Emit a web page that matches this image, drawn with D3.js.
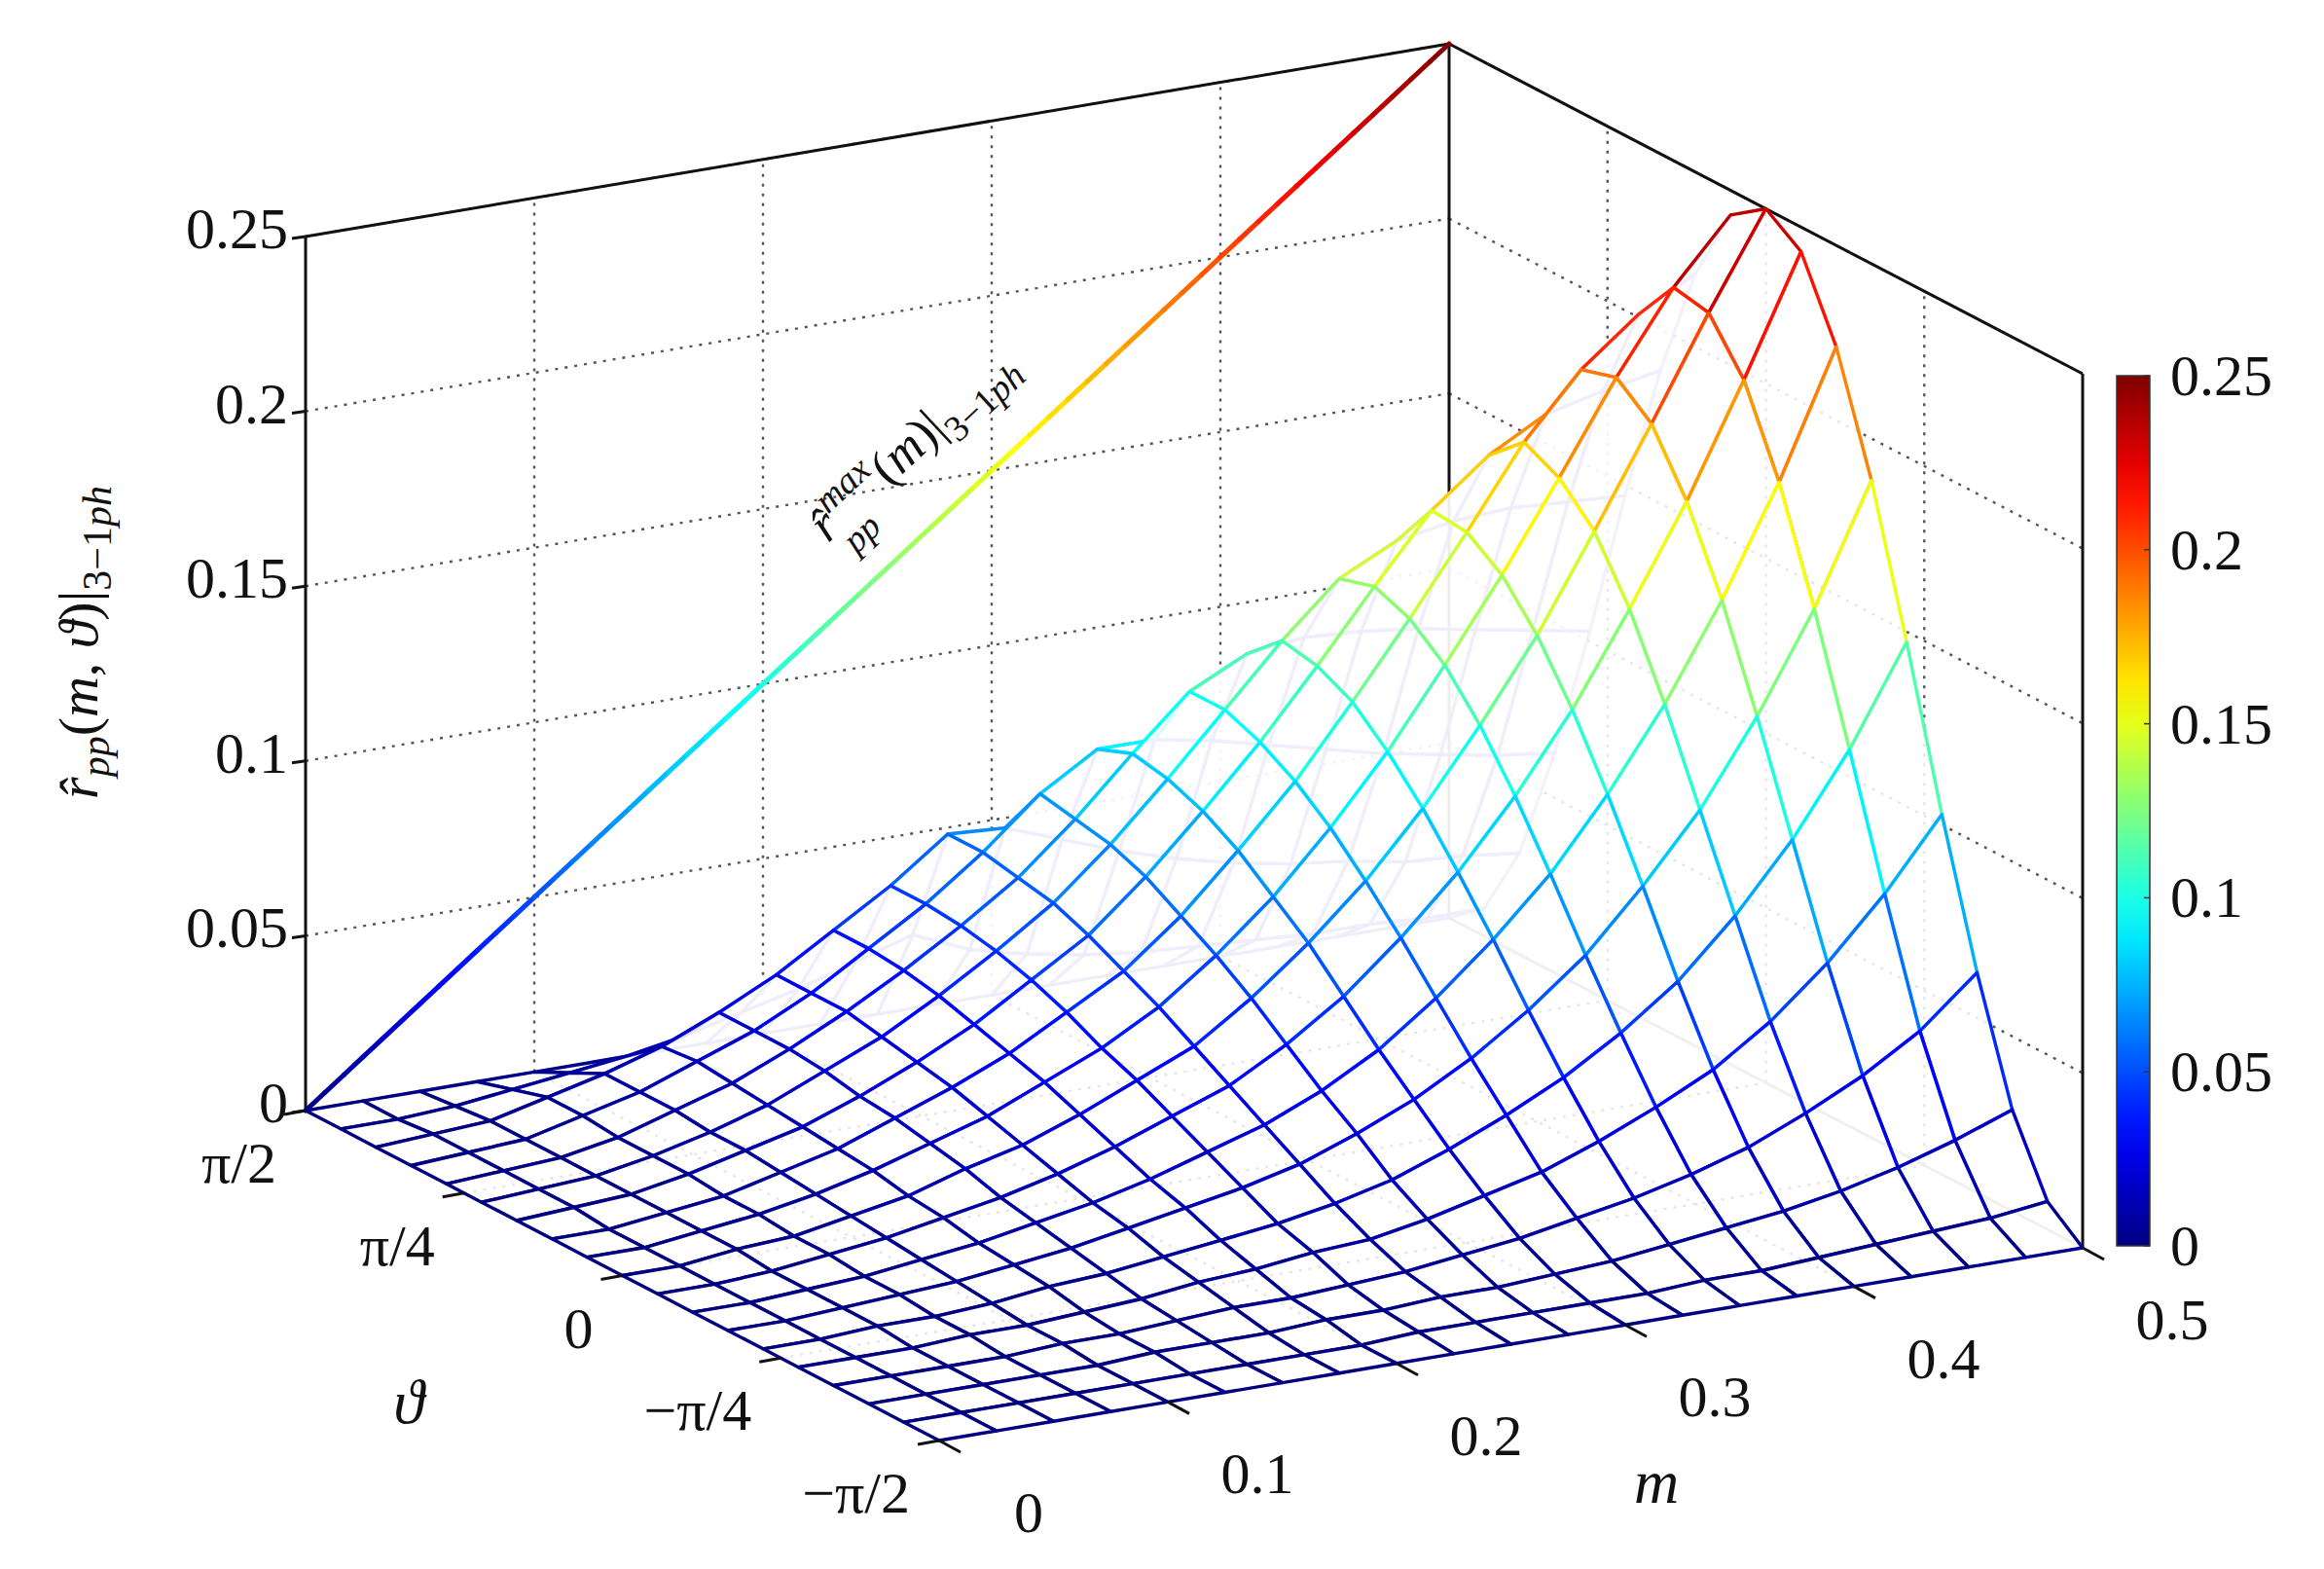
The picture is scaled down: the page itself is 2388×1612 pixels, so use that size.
<!DOCTYPE html>
<html><head><meta charset="utf-8">
<script src="https://cdn.jsdelivr.net/npm/d3@7"></script>
<style>body{margin:0;background:#fff}svg text{font-family:"Liberation Serif","Times New Roman",serif;fill:#111}</style>
</head><body><svg id="c" width="2388" height="1612" font-family="Liberation Serif, serif"></svg>
<script>
// ---------- data ----------
const mValues = [0,0.025,0.05,0.075,0.1,0.125,0.15,0.175,0.2,0.225,0.25,0.275,0.3,0.325,0.35,0.375,0.4,0.425,0.45,0.475,0.5];
const thetaValues = d3.range(19).map(i => -Math.PI/2 + i*Math.PI/18);
const zRows = [
[0,0,0,0,0,0,0,0,0,0,0,0,0,0,0,0,0,0,0],
[0,0,0,0,0,0,0,0,0,0,0,0,0.001,0.001,0.001,0.001,0.001,0,0],
[0,0,0,0,0,0.001,0.001,0.001,0.001,0.002,0.002,0.002,0.002,0.002,0.002,0.002,0.002,0.001,0],
[0,0,0,0,0.001,0.001,0.002,0.002,0.003,0.003,0.004,0.004,0.005,0.005,0.005,0.006,0.006,0.003,0],
[0,0,0,0.001,0.001,0.002,0.003,0.004,0.005,0.006,0.007,0.008,0.009,0.009,0.010,0.010,0.010,0.005,0],
[0,0,0.001,0.001,0.002,0.004,0.005,0.006,0.008,0.009,0.011,0.012,0.013,0.014,0.015,0.016,0.015,0.007,0],
[0,0,0.001,0.002,0.003,0.005,0.007,0.009,0.011,0.014,0.016,0.018,0.019,0.021,0.022,0.022,0.022,0.010,0],
[0,0,0.001,0.003,0.005,0.007,0.010,0.012,0.015,0.018,0.021,0.024,0.026,0.028,0.030,0.030,0.030,0.014,0],
[0,0,0.002,0.003,0.006,0.009,0.013,0.016,0.020,0.024,0.028,0.031,0.034,0.037,0.039,0.040,0.040,0.018,0],
[0,0.001,0.002,0.004,0.008,0.011,0.016,0.021,0.026,0.031,0.035,0.040,0.044,0.047,0.049,0.050,0.050,0.023,0],
[0,0.001,0.003,0.005,0.009,0.014,0.020,0.026,0.032,0.038,0.044,0.049,0.054,0.058,0.060,0.062,0.062,0.028,0],
[0,0.001,0.003,0.007,0.012,0.018,0.026,0.033,0.041,0.049,0.056,0.062,0.068,0.072,0.074,0.076,0.061,0.021,0],
[0,0.001,0.004,0.009,0.016,0.024,0.033,0.042,0.052,0.062,0.070,0.078,0.084,0.088,0.090,0.086,0.055,0.017,0],
[0,0.001,0.005,0.012,0.020,0.031,0.042,0.054,0.066,0.077,0.087,0.095,0.101,0.105,0.105,0.086,0.049,0.014,0],
[0,0.002,0.007,0.015,0.026,0.039,0.053,0.068,0.082,0.095,0.106,0.115,0.120,0.122,0.113,0.083,0.044,0.012,0],
[0,0.002,0.009,0.019,0.033,0.049,0.066,0.084,0.101,0.116,0.128,0.136,0.140,0.137,0.115,0.079,0.040,0.011,0],
[0,0.003,0.011,0.024,0.041,0.061,0.083,0.104,0.123,0.139,0.151,0.158,0.159,0.145,0.114,0.075,0.037,0.010,0],
[0,0.004,0.014,0.031,0.052,0.077,0.102,0.127,0.149,0.166,0.176,0.181,0.172,0.148,0.112,0.071,0.035,0.009,0],
[0,0.005,0.018,0.039,0.066,0.096,0.126,0.154,0.177,0.194,0.202,0.199,0.181,0.149,0.109,0.068,0.032,0.009,0],
[0,0.006,0.023,0.049,0.083,0.119,0.154,0.185,0.209,0.223,0.225,0.212,0.185,0.148,0.106,0.065,0.031,0.008,0],
[0,0.008,0.029,0.063,0.103,0.147,0.188,0.221,0.243,0.250,0.243,0.221,0.188,0.147,0.103,0.063,0.029,0.008,0]
];
const rMaxM = [0, 0.5];
const rMaxZ = [0, 0.25];
const zTicks = [0,0.05,0.1,0.15,0.2,0.25];
const zTickLabels = ["0","0.05","0.1","0.15","0.2","0.25"];
const mTicks = [0,0.1,0.2,0.3,0.4,0.5];
const mTickLabels = ["0","0.1","0.2","0.3","0.4","0.5"];
const thTicks = [Math.PI/2,Math.PI/4,0,-Math.PI/4,-Math.PI/2];
const thTickLabels = ["π/2","π/4","0","−π/4","−π/2"];

// ---------- projection ----------
const svg = d3.select("#c");
const O = [314,1141], A = [965,1480], B = [2140,1282], ZH = 898;
const sm = d3.scaleLinear().domain([0,0.5]).range([0,1]);
const st = d3.scaleLinear().domain([Math.PI/2,-Math.PI/2]).range([0,1]);
const sz = d3.scaleLinear().domain([0,0.25]).range([0,ZH]);
function P(m,t,z){const a=sm(m),b=st(t);
  return [O[0]+a*(B[0]-A[0])+b*(A[0]-O[0]), O[1]+a*(B[1]-A[1])+b*(A[1]-O[1])-sz(z)];}
function jet(v){const t=Math.max(0,Math.min(1,v/0.25));
  const c=x=>Math.round(255*Math.max(0,Math.min(1,x)));
  return `rgb(${c(1.5-Math.abs(4*t-3))},${c(1.5-Math.abs(4*t-2))},${c(1.5-Math.abs(4*t-1))})`;}
const line = d3.line();

// ---------- walls / grid ----------
const g = svg.append("g");
const dot = {stroke:"#555","stroke-width":2.4,"stroke-dasharray":"3,7",fill:"none"};
function seg(p,q,st){const e=g.append("path").attr("d",line([p,q]));for(const k in st)e.attr(k,st[k]);return e;}
const tMax=Math.PI/2,tMin=-Math.PI/2;
zTicks.slice(1).forEach(z=>{seg(P(0,tMax,z),P(0.5,tMax,z),dot);seg(P(0.5,tMax,z),P(0.5,tMin,z),dot);});
mTicks.slice(1,-1).forEach(m=>{seg(P(m,tMax,0),P(m,tMax,0.25),dot);seg(P(m,tMax,0),P(m,tMin,0),dot);});
thTicks.slice(1,-1).forEach(t=>{seg(P(0.5,t,0),P(0.5,t,0.25),dot);seg(P(0,t,0),P(0.5,t,0),dot);});
const solid={stroke:"#111","stroke-width":3,fill:"none"};
seg(P(0,tMax,0),P(0,tMax,0.25),solid);
seg(P(0,tMax,0.25),P(0.5,tMax,0.25),solid);
seg(P(0.5,tMax,0.25),P(0.5,tMin,0.25),solid);
seg(P(0.5,tMin,0),P(0.5,tMin,0.25),solid);
seg(P(0.5,tMax,0),P(0.5,tMax,0.25),solid);
seg(P(0,tMax,0),P(0.5,tMax,0),{stroke:"#888","stroke-width":2.5,fill:"none"});
seg(P(0.5,tMax,0),P(0.5,tMin,0),{stroke:"#999","stroke-width":3,fill:"none"});

// r max line (jet-coloured segments)
const nS=60;
for(let i=0;i<nS;i++){const m0=rMaxM[1]*i/nS,m1=rMaxM[1]*(i+1)/nS;
  const z0=rMaxZ[1]*i/nS,z1=rMaxZ[1]*(i+1)/nS;
  g.append("path").attr("d",line([P(m0,tMax,z0),P(m1,tMax,z1)])).attr("stroke",jet((z0+z1)/2)).attr("stroke-width",5).attr("stroke-linecap","round");}
const lbl = g.append("text").attr("transform","translate(948,468) rotate(-43)").attr("text-anchor","middle").attr("font-size",52).attr("font-style","italic");
lbl.append("tspan").text("r̂");
lbl.append("tspan").attr("dy",-22).attr("font-size",38).text("max");
lbl.append("tspan").attr("dx",-70).attr("dy",50).attr("font-size",38).text("pp");
lbl.append("tspan").attr("dx",34).attr("dy",-28).attr("font-style","normal").text("(");
lbl.append("tspan").text("m");
lbl.append("tspan").attr("font-style","normal").text(")|");
lbl.append("tspan").attr("dy",16).attr("font-size",38).attr("font-style","normal").text("3−1");
lbl.append("tspan").attr("font-size",38).text("ph");

// ---------- surface ----------
const quads=[];
for(let i=0;i<mValues.length-1;i++)for(let j=0;j<thetaValues.length-1;j++){
  const pts=[[i,j],[i+1,j],[i+1,j+1],[i,j+1]];
  const zc=d3.mean(pts,p=>zRows[p[0]][p[1]]);
  const mc=(mValues[i]+mValues[i+1])/2, tc=(thetaValues[j]+thetaValues[j+1])/2;
  const depth=P(mc,tc,0)[1];
  quads.push({pts,zc,depth});}
quads.sort((a,b)=>a.depth-b.depth);
const sg=svg.append("g");
quads.forEach(q=>{
  const poly=q.pts.map(p=>P(mValues[p[0]],thetaValues[p[1]],zRows[p[0]][p[1]]));
  const area=d3.polygonArea(poly);
  const back = area>0 ? false : true;
  sg.append("path").attr("d",line(poly)+"Z").attr("fill","white").attr("fill-opacity",back?0.5:0.85)
    .attr("stroke",back?"#8a7fe0":jet(q.zc)).attr("stroke-opacity",back?0.75:1)
    .attr("stroke-width",3.4).attr("stroke-linejoin","round");});

// ---------- axes ----------
const ax=svg.append("g");
zTicks.forEach((z,i)=>{const p=P(0,tMax,z);
  ax.append("path").attr("d",line([p,[p[0]-14,p[1]+2]])).attr("stroke","#111").attr("stroke-width",3);
  ax.append("text").attr("x",p[0]-18).attr("y",p[1]+12).attr("text-anchor","end").attr("font-size",60).text(zTickLabels[i]);});
thTicks.forEach((t,i)=>{const p=P(0,t,0);
  ax.append("path").attr("d",line([p,[p[0]-22,p[1]+4]])).attr("stroke","#111").attr("stroke-width",3);
  ax.append("text").attr("x",p[0]-30).attr("y",p[1]+74).attr("text-anchor","end").attr("font-size",60).text(thTickLabels[i]);});
mTicks.forEach((m,i)=>{const p=P(m,tMin,0);
  ax.append("path").attr("d",line([p,[p[0]+22,p[1]+12]])).attr("stroke","#111").attr("stroke-width",3);
  ax.append("text").attr("x",p[0]+92).attr("y",p[1]+94).attr("text-anchor","middle").attr("font-size",60).text(mTickLabels[i]);});
ax.append("text").attr("x",420).attr("y",1462).attr("text-anchor","middle").attr("font-size",64).attr("font-style","italic").text("ϑ");
ax.append("text").attr("x",1702).attr("y",1544).attr("text-anchor","middle").attr("font-size",64).attr("font-style","italic").text("m");
const zl=ax.append("text").attr("transform","translate(100,660) rotate(-90)").attr("text-anchor","middle").attr("font-size",58);
zl.append("tspan").attr("font-style","italic").text("r̂");
zl.append("tspan").attr("font-style","italic").attr("font-size",42).attr("dy",12).text("pp");
zl.append("tspan").attr("dy",-12).text("(");
zl.append("tspan").attr("font-style","italic").text("m");
zl.append("tspan").text(", ");
zl.append("tspan").attr("font-style","italic").text("ϑ");
zl.append("tspan").text(")|");
zl.append("tspan").attr("font-size",42).attr("dy",14).text("3−1");
zl.append("tspan").attr("font-size",42).attr("font-style","italic").text("ph");

// ---------- colorbar ----------
const cb={x:2175,w:34,y0:1280,y1:386};
const cs=d3.scaleLinear().domain([0,0.25]).range([cb.y0,cb.y1]);
const defs=svg.append("defs");
const gr=defs.append("linearGradient").attr("id","jet").attr("x1",0).attr("y1",1).attr("x2",0).attr("y2",0);
d3.range(0,1.0001,0.05).forEach(t=>gr.append("stop").attr("offset",t).attr("stop-color",jet(t*0.25)));
svg.append("rect").attr("x",cb.x).attr("y",cb.y1).attr("width",cb.w).attr("height",cb.y0-cb.y1).attr("fill","url(#jet)").attr("stroke","#333").attr("stroke-width",1.5);
zTicks.forEach((z,i)=>{
  svg.append("path").attr("d",line([[cb.x+cb.w-6,cs(z)],[cb.x+cb.w,cs(z)]])).attr("stroke","#333").attr("stroke-width",1.5);
  svg.append("text").attr("x",2230).attr("y",cs(z)+20).attr("font-size",60).text(zTickLabels[i]);});
</script></body></html>
